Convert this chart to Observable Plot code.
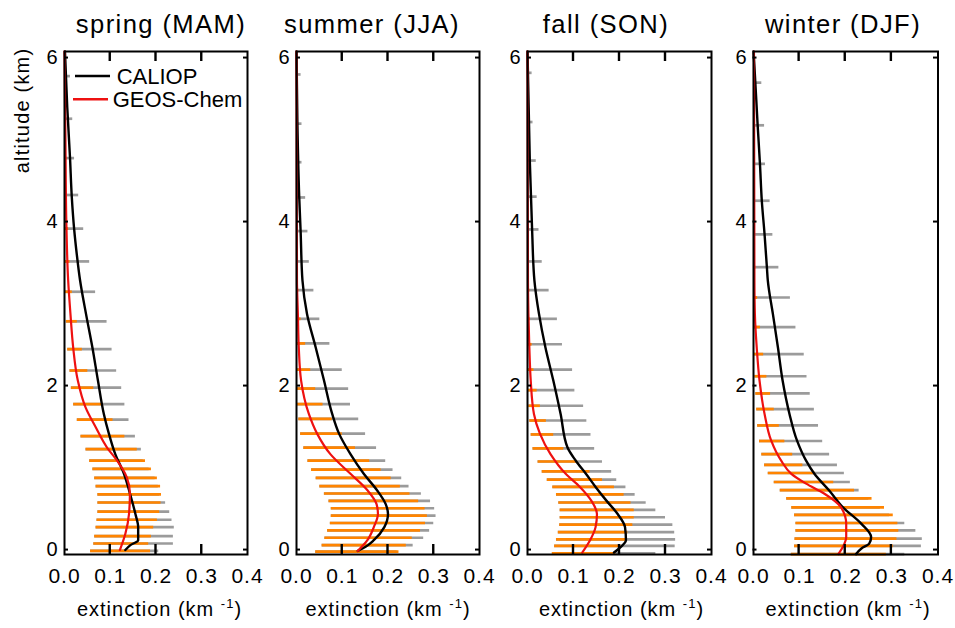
<!DOCTYPE html>
<html><head><meta charset="utf-8">
<script src="https://cdn.jsdelivr.net/npm/d3@7"></script>
<script src="https://cdn.jsdelivr.net/npm/@observablehq/plot@0.6"></script>
<style>
html,body{margin:0;padding:0;background:#fff;}
#wrap{position:relative;width:955px;height:628px;overflow:hidden;background:#fff;font-family:"Liberation Sans",Arial,Helvetica,sans-serif;}
#wrap svg.panel{position:absolute;top:0;}
#overlay{position:absolute;left:0;top:0;pointer-events:none;}
</style></head><body><div id="wrap"></div>
<script>
// ---------- labels ----------
const seasonTitles = ["spring (MAM)", "summer (JJA)", "fall (SON)", "winter (DJF)"];
const xTickValues = [0, 0.1, 0.2, 0.3, 0.4];
const xInnerTicks = [0.1, 0.2, 0.3];
const yTickValues = [0, 2, 4, 6];
const seriesNames = ["CALIOP", "GEOS-Chem"];

// ---------- spring (MAM) ----------
const springAlt      = [5.78, 5.26, 4.78, 4.33, 3.92, 3.52, 3.15, 2.79, 2.45, 2.19, 1.98, 1.78, 1.59, 1.39, 1.23, 1.09, 0.99, 0.88, 0.78, 0.68, 0.58, 0.47, 0.37, 0.28, 0.17, 0.08, -0.01];
const springCaliopHi = [0.013, 0.018, 0.022, 0.031, 0.042, 0.055, 0.068, 0.093, 0.104, 0.114, 0.125, 0.132, 0.141, 0.155, 0.168, 0.172, 0.185, 0.198, 0.205, 0.208, 0.221, 0.230, 0.235, 0.240, 0.238, 0.238, 0.206];
const springGeosLo   = [0, 0, 0, 0.001, 0.001, 0.002, 0.002, 0.004, 0.007, 0.012, 0.015, 0.020, 0.028, 0.036, 0.047, 0.055, 0.062, 0.066, 0.069, 0.073, 0.073, 0.073, 0.071, 0.069, 0.066, 0.064, 0.057];
const springGeosHi   = [0.003, 0.004, 0.005, 0.006, 0.009, 0.012, 0.017, 0.028, 0.039, 0.051, 0.064, 0.082, 0.106, 0.132, 0.159, 0.177, 0.190, 0.203, 0.210, 0.212, 0.211, 0.208, 0.203, 0.195, 0.190, 0.184, 0.188];
const springCaliopAlt = [6.08, 5.4, 4.79, 4.3, 3.92, 3.6, 3.29, 2.88, 2.47, 2.07, 1.66, 1.42, 1.17, 0.93, 0.69, 0.44, 0.28, 0.12, 0.06, 0.0];
const springCaliopVal = [0.001, 0.006, 0.012, 0.016, 0.021, 0.027, 0.034, 0.047, 0.061, 0.073, 0.086, 0.097, 0.111, 0.130, 0.143, 0.155, 0.161, 0.161, 0.144, 0.133];
const springGeosAlt   = [6.08, 5.0, 4.0, 3.29, 2.88, 2.47, 2.07, 1.74, 1.50, 1.25, 1.09, 0.89, 0.69, 0.44, 0.20, 0.0];
const springGeosVal   = [0.0, 0.002, 0.004, 0.008, 0.013, 0.019, 0.029, 0.046, 0.068, 0.093, 0.115, 0.136, 0.143, 0.141, 0.133, 0.121];

// ---------- summer (JJA) ----------
const summerAlt      = [5.80, 5.20, 4.73, 4.30, 3.89, 3.52, 3.17, 2.82, 2.52, 2.20, 1.97, 1.78, 1.60, 1.42, 1.25, 1.09, 0.98, 0.88, 0.78, 0.69, 0.60, 0.51, 0.42, 0.33, 0.24, 0.15, 0.06, -0.02];
const summerCaliopHi = [0.010, 0.012, 0.012, 0.020, 0.025, 0.028, 0.038, 0.051, 0.073, 0.100, 0.114, 0.118, 0.136, 0.151, 0.175, 0.195, 0.211, 0.230, 0.246, 0.273, 0.293, 0.302, 0.305, 0.300, 0.291, 0.278, 0.255, 0.220];
const summerGeosLo   = [0, 0, 0, 0, 0, 0, 0, 0, 0, 0, 0, 0.001, 0.005, 0.009, 0.016, 0.025, 0.033, 0.043, 0.051, 0.061, 0.071, 0.076, 0.076, 0.074, 0.068, 0.062, 0.056, 0.042];
const summerGeosHi   = [0.001, 0.001, 0.001, 0.002, 0.003, 0.003, 0.005, 0.010, 0.020, 0.031, 0.042, 0.058, 0.078, 0.100, 0.129, 0.160, 0.185, 0.207, 0.227, 0.248, 0.267, 0.281, 0.286, 0.282, 0.271, 0.253, 0.240, 0.224];
const summerCaliopAlt = [6.08, 5.2, 4.3, 3.89, 3.29, 2.88, 2.47, 2.07, 1.66, 1.42, 1.17, 0.93, 0.73, 0.56, 0.44, 0.28, 0.12, 0.04, -0.01];
const summerCaliopVal = [0.0, 0.002, 0.006, 0.009, 0.013, 0.023, 0.042, 0.060, 0.078, 0.093, 0.118, 0.147, 0.176, 0.195, 0.200, 0.192, 0.169, 0.151, 0.134];
const summerGeosAlt   = [6.08, 3.29, 2.88, 2.47, 2.07, 1.66, 1.42, 1.17, 0.93, 0.73, 0.56, 0.44, 0.28, 0.12, -0.01];
const summerGeosVal   = [0.0, 0.001, 0.003, 0.005, 0.010, 0.027, 0.045, 0.074, 0.118, 0.155, 0.175, 0.178, 0.169, 0.155, 0.134];

// ---------- fall (SON) ----------
const fallAlt      = [5.82, 5.22, 4.75, 4.31, 3.91, 3.52, 3.17, 2.82, 2.51, 2.20, 1.95, 1.76, 1.58, 1.41, 1.24, 1.08, 0.96, 0.86, 0.77, 0.68, 0.58, 0.49, 0.40, 0.31, 0.22, 0.13, 0.05, -0.04];
const fallCaliopHi = [0.010, 0.012, 0.019, 0.021, 0.025, 0.032, 0.047, 0.065, 0.076, 0.098, 0.103, 0.122, 0.129, 0.138, 0.146, 0.163, 0.183, 0.194, 0.214, 0.234, 0.258, 0.279, 0.300, 0.316, 0.320, 0.322, 0.321, 0.279];
const fallGeosLo   = [0, 0, 0, 0, 0, 0, 0.001, 0.001, 0.001, 0.001, 0.001, 0.003, 0.005, 0.008, 0.012, 0.023, 0.032, 0.043, 0.055, 0.063, 0.068, 0.071, 0.071, 0.070, 0.067, 0.063, 0.059, 0.054];
const fallGeosHi   = [0.001, 0.001, 0.001, 0.001, 0.001, 0.002, 0.005, 0.006, 0.010, 0.014, 0.021, 0.028, 0.041, 0.057, 0.079, 0.108, 0.136, 0.163, 0.189, 0.210, 0.225, 0.232, 0.232, 0.229, 0.218, 0.214, 0.203, 0.192];
const fallCaliopAlt = [6.08, 4.75, 3.91, 3.29, 2.88, 2.47, 2.07, 1.66, 1.25, 1.09, 0.93, 0.77, 0.60, 0.44, 0.28, 0.12, 0.04, -0.03];
const fallCaliopVal = [0.0, 0.005, 0.010, 0.015, 0.025, 0.039, 0.056, 0.072, 0.087, 0.105, 0.127, 0.148, 0.172, 0.196, 0.212, 0.214, 0.203, 0.188];
const fallGeosAlt   = [6.08, 3.29, 2.88, 2.47, 2.07, 1.66, 1.42, 1.17, 0.93, 0.77, 0.60, 0.44, 0.28, 0.12, -0.03];
const fallGeosVal   = [0.0, 0.001, 0.002, 0.004, 0.007, 0.014, 0.027, 0.050, 0.083, 0.114, 0.139, 0.151, 0.148, 0.136, 0.119];

// ---------- winter (DJF) ----------
const winterAlt      = [5.70, 5.18, 4.71, 4.26, 3.85, 3.45, 3.08, 2.72, 2.39, 2.12, 1.91, 1.72, 1.52, 1.33, 1.17, 1.04, 0.94, 0.83, 0.73, 0.63, 0.52, 0.43, 0.33, 0.24, 0.14, 0.05, -0.05];
const winterCaliopHi = [0.018, 0.024, 0.026, 0.036, 0.042, 0.055, 0.080, 0.092, 0.110, 0.116, 0.123, 0.132, 0.141, 0.150, 0.165, 0.182, 0.197, 0.210, 0.229, 0.250, 0.275, 0.295, 0.328, 0.352, 0.366, 0.364, 0.328];
const winterGeosLo   = [0, 0, 0, 0, 0, 0.001, 0, 0, 0.002, 0.003, 0.005, 0.007, 0.009, 0.013, 0.018, 0.024, 0.032, 0.045, 0.058, 0.072, 0.083, 0.089, 0.092, 0.092, 0.090, 0.089, 0.082];
const winterGeosHi   = [0.002, 0.002, 0.002, 0.003, 0.004, 0.005, 0.009, 0.015, 0.022, 0.029, 0.037, 0.045, 0.056, 0.068, 0.085, 0.107, 0.134, 0.174, 0.219, 0.257, 0.284, 0.303, 0.313, 0.315, 0.311, 0.303, 0.288];
const winterCaliopAlt = [6.08, 5.9, 5.18, 4.71, 4.26, 3.85, 3.45, 3.29, 2.88, 2.47, 2.07, 1.66, 1.34, 1.09, 0.93, 0.72, 0.52, 0.32, 0.16, 0.08, 0.02, -0.05];
const winterCaliopVal = [0.0, 0.002, 0.009, 0.014, 0.018, 0.024, 0.029, 0.031, 0.042, 0.053, 0.063, 0.078, 0.094, 0.114, 0.132, 0.165, 0.194, 0.234, 0.255, 0.251, 0.234, 0.222];
const winterGeosAlt   = [6.08, 3.29, 2.88, 2.47, 2.07, 1.66, 1.34, 1.09, 0.93, 0.81, 0.69, 0.52, 0.32, 0.16, -0.05];
const winterGeosVal   = [0.001, 0.002, 0.003, 0.007, 0.013, 0.024, 0.038, 0.060, 0.082, 0.114, 0.153, 0.190, 0.201, 0.201, 0.184];

const panels = [
  {alt: springAlt, cHi: springCaliopHi, gLo: springGeosLo, gHi: springGeosHi, cA: springCaliopAlt, cV: springCaliopVal, gA: springGeosAlt, gV: springGeosVal},
  {alt: summerAlt, cHi: summerCaliopHi, gLo: summerGeosLo, gHi: summerGeosHi, cA: summerCaliopAlt, cV: summerCaliopVal, gA: summerGeosAlt, gV: summerGeosVal},
  {alt: fallAlt, cHi: fallCaliopHi, gLo: fallGeosLo, gHi: fallGeosHi, cA: fallCaliopAlt, cV: fallCaliopVal, gA: fallGeosAlt, gV: fallGeosVal},
  {alt: winterAlt, cHi: winterCaliopHi, gLo: winterGeosLo, gHi: winterGeosHi, cA: winterCaliopAlt, cV: winterCaliopVal, gA: winterGeosAlt, gV: winterGeosVal}
];

// ---------- layout ----------
const FONT = '"Liberation Sans", Arial, Helvetica, sans-serif';
const panelLeft  = [64, 296, 527, 752.5];
const panelWidth = [183, 183, 184, 184.5];
const ML = 45, MR = 30, MT = 51, MB = 74, H = 628;
const XDOM = [0, 0.4], YDOM = [-0.054, 6.08];
const XTICK_PX = 10, YTICK_PX = 4;
const titleX = [161, 372, 606, 843];
const xlabX  = [159.5, 388, 621.5, 848];

const wrap = document.getElementById("wrap");
const plots = [];

panels.forEach((p, i) => {
  const bars = p.alt.map((a, k) => ({alt: a, cHi: p.cHi[k], gLo: p.gLo[k], gHi: p.gHi[k]}));
  const cal = p.cA.map((a, k) => ({alt: a, v: p.cV[k]}));
  const geo = p.gA.map((a, k) => ({alt: a, v: p.gV[k]}));
  const pw = panelWidth[i];
  const svg = Plot.plot({
    width: ML + pw + MR,
    height: H,
    marginTop: MT, marginBottom: MB, marginLeft: ML, marginRight: MR,
    style: {fontFamily: FONT, background: "transparent", overflow: "visible", color: "black"},
    x: {domain: XDOM, label: null},
    y: {domain: YDOM, label: null},
    marks: [
      Plot.ruleY(bars, {y: "alt", x1: "gLo", x2: "cHi", stroke: "#9b9b9b", strokeWidth: 2.7}),
      Plot.ruleY(bars, {y: "alt", x1: "gLo", x2: "gHi", stroke: "#ff8400", strokeWidth: 2.7}),
      Plot.line(cal, {x: "v", y: "alt", curve: "monotone-y", stroke: "black", strokeWidth: 2.4}),
      Plot.line(geo, {x: "v", y: "alt", curve: "monotone-y", stroke: "#ee1111", strokeWidth: 2.2}),
      Plot.frame({stroke: "black", strokeWidth: 2}),
      Plot.axisX(xTickValues, {anchor: "bottom", tickSize: 0, tickPadding: 14, fontSize: 21, tickFormat: d3.format(".1f"), label: null}),
      Plot.axisY(yTickValues, {anchor: "left", tickSize: 0, tickPadding: 6, fontSize: 20, tickFormat: d3.format("d"), label: null})
    ]
  });
  svg.classList.add("panel");
  svg.style.left = (panelLeft[i] - ML) + "px";
  svg.style.maxWidth = "none";
  svg.style.letterSpacing = "1px";
  wrap.appendChild(svg);
  plots.push(svg);
});

// ---------- overlay: inward ticks (from each panel's Plot scales), titles, axis labels, legend ----------
const ov = d3.select(wrap).append("svg").attr("id", "overlay").attr("width", 955).attr("height", 628)
  .style("font-family", FONT);

plots.forEach((svg, i) => {
  const sx = svg.scale("x"), sy = svg.scale("y");
  const ox = panelLeft[i] - ML;
  const yb = sy.apply(YDOM[0]), yt = sy.apply(YDOM[1]);
  const xl = ox + sx.apply(XDOM[0]), xr = ox + sx.apply(XDOM[1]);
  const g = ov.append("g").attr("stroke", "black");
  xInnerTicks.forEach(v => {
    const x = ox + sx.apply(v);
    g.append("line").attr("x1", x).attr("x2", x).attr("y1", yb).attr("y2", yb - XTICK_PX).attr("stroke-width", 2.4);
    g.append("line").attr("x1", x).attr("x2", x).attr("y1", yt).attr("y2", yt + XTICK_PX).attr("stroke-width", 2.4);
  });
  yTickValues.forEach(v => {
    const y = sy.apply(v);
    g.append("line").attr("x1", xl).attr("x2", xl + YTICK_PX).attr("y1", y).attr("y2", y).attr("stroke-width", 2);
    g.append("line").attr("x1", xr - YTICK_PX).attr("x2", xr).attr("y1", y).attr("y2", y).attr("stroke-width", 2);
  });
});

seasonTitles.forEach((t, i) => {
  ov.append("text").attr("x", titleX[i]).attr("y", 33).attr("text-anchor", "middle")
    .attr("font-size", 25.6).style("letter-spacing", "1.4px").text(t);
  const lab = ov.append("text").attr("x", xlabX[i]).attr("y", 616).attr("text-anchor", "middle")
    .attr("font-size", 20).style("letter-spacing", "1px");
  lab.append("tspan").text("extinction (km ");
  lab.append("tspan").attr("font-size", 13).attr("dy", -8).text("-1");
  lab.append("tspan").attr("dy", 8).text(")");
});

ov.append("text").attr("transform", "translate(29,110.5) rotate(-90)").attr("text-anchor", "middle")
  .attr("font-size", 20).style("letter-spacing", "1.2px").text("altitude (km)");

// legend
const legendColors = ["black", "#ee1111"];
const legendY = [76, 99.3];
seriesNames.forEach((n, i) => {
  ov.append("line").attr("x1", i ? 73 : 75).attr("x2", i ? 108 : 110).attr("y1", legendY[i]).attr("y2", legendY[i])
    .attr("stroke", legendColors[i]).attr("stroke-width", 2.4);
  ov.append("text").attr("x", i ? 112.7 : 116.7).attr("y", legendY[i] + 7.5).attr("font-size", 22).text(n);
});
</script>
</body></html>
